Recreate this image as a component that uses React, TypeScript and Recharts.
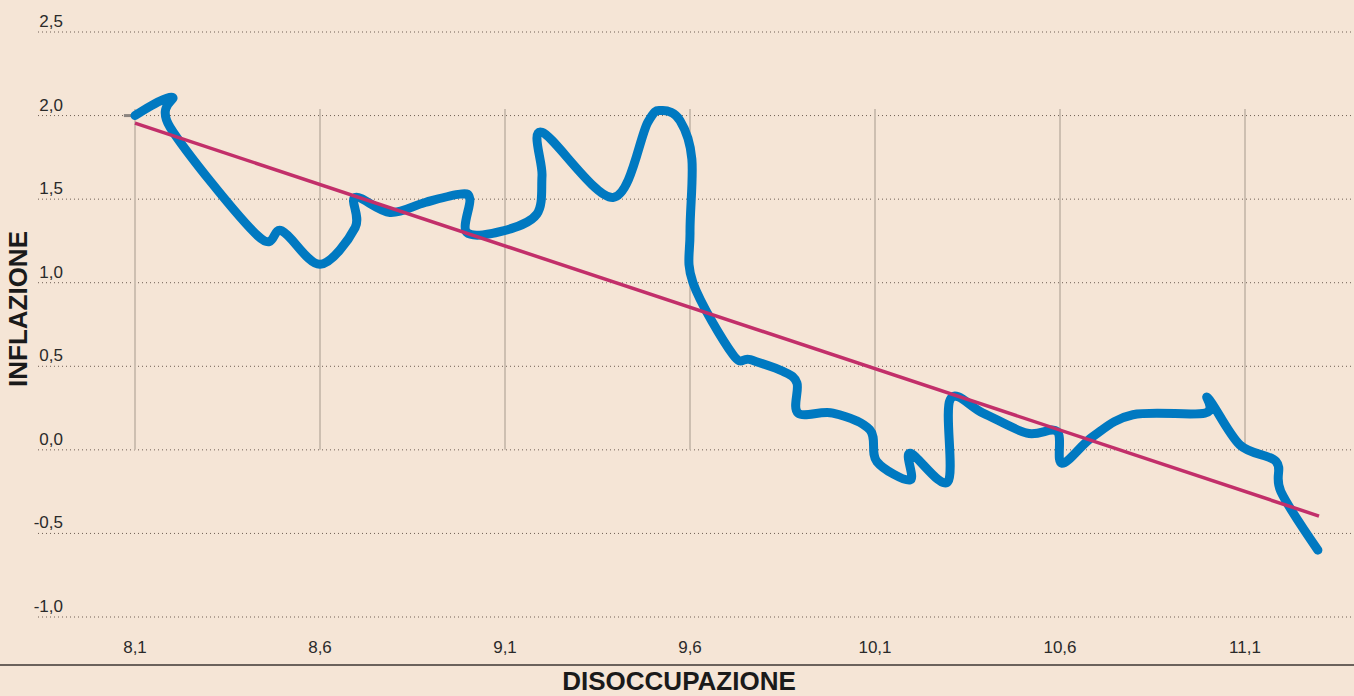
import React from 'react'
import { LineChart, Line, XAxis, YAxis, CartesianGrid } from 'recharts'

// axis ticks
const xTicks = [8.1, 8.6, 9.1, 9.6, 10.1, 10.6, 11.1]
const yTicks = [-1, -0.5, 0, 0.5, 1, 1.5, 2, 2.5]

// disoccupazione (x) / inflazione (y), in order of time
const unemployment = [
  8.1, 8.2, 8.195, 8.432, 8.497, 8.6, 8.695, 8.695, 8.789, 8.884, 8.978, 9.005, 8.997,
  9.095, 9.186, 9.2, 9.2, 9.392, 9.486, 9.524, 9.573, 9.605, 9.6, 9.608, 9.716, 9.762, 9.851,
  9.889, 9.892, 9.986, 10.086, 10.105, 10.195, 10.195, 10.297, 10.303, 10.392, 10.511,
  10.592, 10.605, 10.689, 10.797, 10.992, 11.0, 11.086, 11.184, 11.197, 11.297,
]
const inflation = [
  2.0, 2.11, 1.93, 1.28, 1.31, 1.11, 1.33, 1.51, 1.42, 1.48, 1.53, 1.5, 1.3,
  1.31, 1.41, 1.64, 1.9, 1.51, 1.96, 2.03, 1.97, 1.74, 1.3, 1.0, 0.57, 0.54, 0.47,
  0.4, 0.22, 0.22, 0.12, -0.07, -0.18, -0.02, -0.19, 0.3, 0.22, 0.1,
  0.11, -0.08, 0.08, 0.21, 0.22, 0.31, 0.03, -0.07, -0.25, -0.6,
]

// linear fit
const trendX = [8.1, 11.3]
const trendY = [1.955, -0.396]

const BG = '#f5e5d6'
const BLUE = '#0079c1'
const RED = '#c22f6a'
const GRID = '#6e5e54'
const VLINE = '#cdbfb1'
const TEXT = '#2a2a2a'
const FONT = 'Liberation Sans, Arial, sans-serif'

const points = unemployment.map((x, i) => ({ x, y: inflation[i] }))
const trend = trendX.map((x, i) => ({ x, y: trendY[i] }))

const fmt = (v: number) => v.toFixed(1).replace('.', ',')

// cardinal spline, same maths as d3's curveCardinal
function cardinal(tension: number) {
  const k = (1 - tension) / 6
  return (context: any) => {
    let x0 = NaN, x1 = NaN, x2 = NaN, y0 = NaN, y1 = NaN, y2 = NaN
    let pt = 0
    let line = NaN
    const seg = (x: number, y: number) =>
      context.bezierCurveTo(
        x1 + k * (x2 - x0),
        y1 + k * (y2 - y0),
        x2 + k * (x1 - x),
        y2 + k * (y1 - y),
        x2,
        y2
      )
    return {
      areaStart() { line = 0 },
      areaEnd() { line = NaN },
      lineStart() {
        x0 = x1 = x2 = y0 = y1 = y2 = NaN
        pt = 0
      },
      lineEnd() {
        if (pt === 2) context.lineTo(x2, y2)
        else if (pt === 3) seg(x1, y1)
        if (line || (line !== 0 && pt === 1)) context.closePath()
        line = 1 - line
      },
      point(x: number, y: number) {
        x = +x
        y = +y
        switch (pt) {
          case 0:
            pt = 1
            line ? context.lineTo(x, y) : context.moveTo(x, y)
            break
          case 1:
            pt = 2
            x1 = x
            y1 = y
            break
          case 2:
            pt = 3
            seg(x, y)
            break
          default:
            seg(x, y)
        }
        x0 = x1; x1 = x2; x2 = x
        y0 = y1; y1 = y2; y2 = y
      },
    }
  }
}

const smooth = cardinal(0)

const renderYTick = (props: any) => {
  const { y, payload } = props
  return (
    <text key={payload.value} x={63} y={y - 5} textAnchor="end" fontSize={17} fill={TEXT} fontFamily={FONT}>
      {fmt(payload.value)}
    </text>
  )
}

export default function App() {
  return (
    <div style={{ position: 'absolute', left: 0, top: 0, width: 1354, height: 696, background: BG, overflow: 'hidden' }}>
      <LineChart width={1354} height={696} margin={{ top: 32, right: 0, bottom: 49, left: 0 }}>
        <CartesianGrid vertical={false} stroke={GRID} strokeDasharray="1 3" />
        <XAxis
          type="number"
          dataKey="x"
          domain={[7.8378, 11.3946]}
          allowDataOverflow
          ticks={xTicks}
          tickFormatter={fmt}
          axisLine={false}
          tickLine={false}
          tickSize={0}
          tickMargin={24}
          height={30}
          tick={{ fontSize: 17, fill: TEXT, fontFamily: FONT }}
        />
        <YAxis
          type="number"
          dataKey="y"
          domain={[-1, 2.5]}
          allowDataOverflow
          ticks={yTicks}
          width={38}
          axisLine={false}
          tickLine={false}
          tick={renderYTick}
        />
        {xTicks.map((t) => (
          <Line
            key={t}
            data={[{ x: t, y: 0 }, { x: t, y: 2.04 }]}
            dataKey="y"
            type="linear"
            stroke={VLINE}
            strokeWidth={2}
            dot={false}
            activeDot={false}
            isAnimationActive={false}
          />
        ))}
        <Line
          data={[{ x: 8.07, y: 2.0 }, { x: 8.1, y: 2.0 }]}
          dataKey="y"
          type="linear"
          stroke="#8c8580"
          strokeWidth={3}
          dot={false}
          activeDot={false}
          isAnimationActive={false}
        />
        <Line
          data={points}
          dataKey="y"
          type={smooth as any}
          stroke={BLUE}
          strokeWidth={9}
          strokeLinecap="round"
          strokeLinejoin="round"
          dot={false}
          activeDot={false}
          isAnimationActive={false}
        />
        <Line
          data={trend}
          dataKey="y"
          type="linear"
          stroke={RED}
          strokeWidth={3.5}
          dot={false}
          activeDot={false}
          isAnimationActive={false}
        />
      </LineChart>
      <div style={{ position: 'absolute', left: 0, top: 664, width: 1354, height: 2, background: '#6b625c' }} />
      <div
        style={{
          position: 'absolute',
          left: 0,
          width: 1354,
          top: 664,
          textAlign: 'center',
          fontFamily: FONT,
          fontWeight: 'bold',
          fontSize: 26,
          lineHeight: '34px',
          color: '#1a1a1a',
          paddingLeft: 2,
        }}
      >
        DISOCCUPAZIONE
      </div>
      <div
        style={{
          position: 'absolute',
          left: 18,
          top: 309,
          transform: 'translate(-50%, -50%) rotate(-90deg)',
          fontFamily: FONT,
          fontWeight: 'bold',
          fontSize: 26,
          lineHeight: '26px',
          color: '#1a1a1a',
          whiteSpace: 'nowrap',
        }}
      >
        INFLAZIONE
      </div>
    </div>
  )
}
